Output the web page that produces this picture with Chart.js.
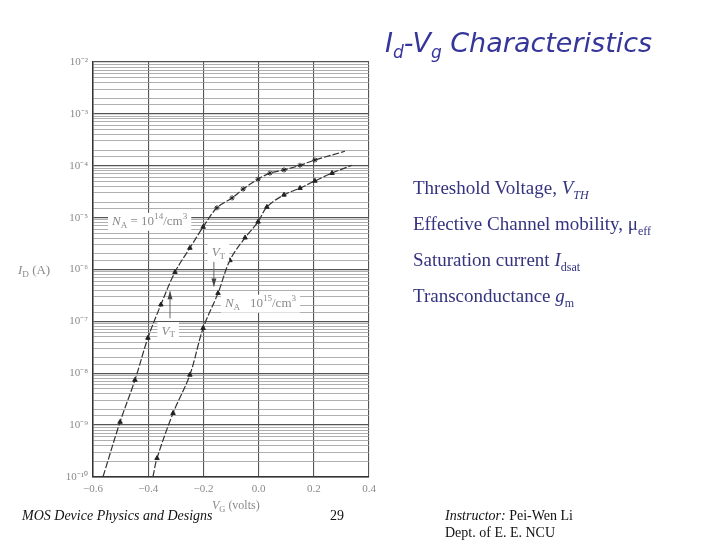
<!doctype html>
<html>
<head>
<title>Id-Vg Characteristics</title>
<script src="https://cdn.jsdelivr.net/npm/chart.js"></script>
<style>
  body { margin: 0; background: #fff; }
  #wrap { position: relative; width: 720px; height: 540px; overflow: hidden; }
  #canvas { position: absolute; left: 0; top: 0; }
  .title { position: absolute; left: 385px; top: 27px; font-family: "DejaVu Sans", sans-serif; font-style: italic; font-size: 27px; color: #35359a; white-space: nowrap; }
  .title sub { font-size: 17px; }
  .bul { position: absolute; left: 413px; font-family: "Liberation Serif", serif; font-size: 19px; color: #33337f; white-space: nowrap; }
  .bul i sub, .bul sub { font-size: 12px; font-style: normal; }
  .foot { position: absolute; font-family: "Liberation Serif", serif; font-size: 14px; color: #111; white-space: nowrap; }
</style>
</head>
<body>
<div id="wrap">
  <canvas id="canvas" width="720" height="540"></canvas>
  <div class="title">I<sub>d</sub>-V<sub>g</sub> Characteristics</div>
  <div class="bul" style="top:177px">Threshold Voltage, <i>V<sub><i>TH</i></sub></i></div>
  <div class="bul" style="top:213px">Effective Channel mobility, &mu;<sub>eff</sub></div>
  <div class="bul" style="top:249px">Saturation current <i>I</i><sub>dsat</sub></div>
  <div class="bul" style="top:285px">Transconductance <i>g</i><sub>m</sub></div>
  <div class="foot" style="left:22px;top:508px;font-style:italic">MOS Device Physics and Designs</div>
  <div class="foot" style="left:330px;top:508px">29</div>
  <div class="foot" style="left:445px;top:508px"><i>Instructor:</i> Pei-Wen Li</div>
  <div class="foot" style="left:445px;top:525px">Dept. of E. E. NCU</div>
</div>
<script>
// NA = 1e14 /cm3 curve
var vgLow = [-0.564, -0.502, -0.448, -0.401, -0.354, -0.303, -0.249, -0.201, -0.151, -0.096, -0.056, -0.002, 0.041, 0.092, 0.150, 0.204, 0.313];
var idLow = [1e-10, 1.15e-9, 7.4e-9, 4.8e-8, 2.1e-7, 8.9e-7, 2.6e-6, 6.6e-6, 1.55e-5, 2.4e-5, 3.55e-5, 5.5e-5, 7.2e-5, 8.3e-5, 1.02e-4, 1.29e-4, 1.9e-4];
// NA = 1e15 /cm3 curve
var vgHigh = [-0.383, -0.368, -0.310, -0.249, -0.201, -0.147, -0.104, -0.049, -0.002, 0.030, 0.092, 0.150, 0.204, 0.266, 0.338];
var idHigh = [1e-10, 2.3e-10, 1.7e-9, 9.3e-9, 7.4e-8, 3.5e-7, 1.5e-6, 4.1e-6, 8.3e-6, 1.6e-5, 2.75e-5, 3.7e-5, 5.1e-5, 7.2e-5, 1.02e-4];

var xTicks = [-0.6, -0.4, -0.2, 0.0, 0.2, 0.4];
var yDecades = [-10, -9, -8, -7, -6, -5, -4, -3, -2];

// text labels on the plot, in data coordinates
var notes = [
  {x: -0.531, y: 8.3e-6, parts: [['N', 'i'], ['A', 'sub'], [' = 10', ''], ['14', 'sup'], ['/cm', ''], ['3', 'sup']]},
  {x: -0.122, y: 2.2e-7, parts: [['N', 'i'], ['A', 'sub'], ['   10', ''], ['15', 'sup'], ['/cm', ''], ['3', 'sup']]},
  {x: -0.170, y: 2.1e-6, parts: [['V', 'i'], ['T', 'sub']]},
  {x: -0.352, y: 6.5e-8, parts: [['V', 'i'], ['T', 'sub']]}
];
var arrows = [
  {x: -0.162, from: 1.4e-6, to: 4.7e-7},
  {x: -0.321, from: 1.15e-7, to: 3.8e-7}
];

function pts(xs, ys) {
  return xs.map(function(v, i) { return {x: v, y: ys[i]}; });
}

var SUP = {'-': '\u207b', '0': '\u2070', '1': '\u00b9', '2': '\u00b2', '3': '\u00b3', '4': '\u2074', '5': '\u2075', '6': '\u2076', '7': '\u2077', '8': '\u2078', '9': '\u2079'};
function supStr(s) { return s.split('').map(function(c) { return SUP[c] || c; }).join(''); }

function isDecade(v) {
  var l = Math.log10(v);
  return Math.abs(l - Math.round(l)) < 1e-6;
}

var soft = '#8a8a8a';

function richText(ctx, x, y, parts, size) {
  var cx = x;
  parts.forEach(function(p) {
    var t = p[0], k = p[1];
    var fs = size, dy = 0, st = '';
    if (k === 'i') st = 'italic ';
    if (k === 'sub') { fs = size * 0.7; dy = size * 0.3; }
    if (k === 'sup') { fs = size * 0.7; dy = -size * 0.4; }
    ctx.font = st + fs + 'px "Liberation Serif", serif';
    ctx.fillText(t, cx, y + dy);
    cx += ctx.measureText(t).width;
  });
  return cx - x;
}

var overlay = {
  id: 'overlay',
  afterDatasetsDraw: function(chart) {
    var ctx = chart.ctx, xs = chart.scales.x, ys = chart.scales.y;
    ctx.save();
    ctx.textBaseline = 'middle';
    ctx.textAlign = 'left';
    notes.forEach(function(n) {
      var px = xs.getPixelForValue(n.x), py = ys.getPixelForValue(n.y);
      ctx.fillStyle = 'rgba(0,0,0,0)';
      var w = richText(ctx, px, py, n.parts, 13);
      ctx.fillStyle = '#fff';
      ctx.fillRect(px - 4, py - 9, w + 8, 18);
      ctx.fillStyle = soft;
      richText(ctx, px, py, n.parts, 13);
    });
    ctx.strokeStyle = '#666';
    ctx.fillStyle = '#444';
    ctx.lineWidth = 1;
    arrows.forEach(function(a) {
      var px = xs.getPixelForValue(a.x), y1 = ys.getPixelForValue(a.from), y2 = ys.getPixelForValue(a.to);
      var dir = y2 > y1 ? 1 : -1;
      ctx.beginPath(); ctx.moveTo(px, y1); ctx.lineTo(px, y2); ctx.stroke();
      ctx.beginPath(); ctx.moveTo(px, y2); ctx.lineTo(px - 2.5, y2 - dir * 8); ctx.lineTo(px + 2.5, y2 - dir * 8); ctx.closePath(); ctx.fill();
    });
    ctx.restore();
  },
  afterDraw: function(chart) {
    var ctx = chart.ctx, a = chart.chartArea;
    ctx.save();
    ctx.fillStyle = soft;
    ctx.textBaseline = 'middle';
    ctx.textAlign = 'left';
    // y axis title
    richText(ctx, 18, a.top + (a.bottom - a.top) * 0.5 + 1, [['I', 'i'], ['D', 'sub'], [' (A)', '']], 13);
    // x axis title
    richText(ctx, 212, 506, [['V', 'i'], ['G', 'sub'], [' (volts)', '']], 12);
    ctx.restore();
  }
};

var lineStyle = {
  showLine: true,
  borderColor: '#333',
  backgroundColor: '#222',
  borderWidth: 1.2,
  borderDash: [7, 2],
  tension: 0.35,
  pointBorderColor: '#222',
  pointBorderWidth: 1
};

function mkSet(label, xs, ys, starAbove) {
  var ds = Object.assign({}, lineStyle, {
    label: label,
    data: pts(xs, ys),
    pointRadius: function(c) { return (c.dataIndex === 0 || c.dataIndex === xs.length - 1) ? 0 : 2.6; },
    pointStyle: function(c) { return (starAbove && c.raw && c.raw.y > 1.2e-5) ? 'star' : 'triangle'; }
  });
  return ds;
}

window.onload = function() {
  var ctx = document.getElementById('canvas').getContext('2d');
  window.myChart = new Chart(ctx, {
    type: 'scatter',
    data: {
      datasets: [
        mkSet('NA = 1e14 /cm3', vgLow, idLow, true),
        mkSet('NA = 1e15 /cm3', vgHigh, idHigh, false)
      ]
    },
    options: {
      responsive: false,
      animation: false,
      events: [],
      layout: { padding: { left: 0, top: 62, right: 351, bottom: 0 } },
      plugins: { legend: { display: false }, tooltip: { enabled: false } },
      scales: {
        x: {
          type: 'linear',
          min: xTicks[0],
          max: xTicks[xTicks.length - 1],
          afterFit: function(s) { s.height = 63; },
          afterBuildTicks: function(s) { s.ticks = xTicks.map(function(v) { return {value: v}; }); },
          ticks: {
            color: soft,
            padding: 6,
            font: { family: '"Liberation Serif", serif', size: 11 },
            callback: function(v) { return (v < 0 ? '\u2212' : '') + Math.abs(v).toFixed(1); }
          },
          grid: { color: '#555', lineWidth: 1.1, drawTicks: false },
          border: { color: '#333', width: 1.5 }
        },
        y: {
          type: 'logarithmic',
          min: Math.pow(10, yDecades[0]),
          max: Math.pow(10, yDecades[yDecades.length - 1]),
          afterFit: function(s) { s.width = 93; },
          ticks: {
            autoSkip: false,
            color: soft,
            padding: 5,
            font: { family: '"Liberation Serif", serif', size: 11 },
            callback: function(v) {
              if (!isDecade(v)) return '';
              return '10' + supStr(String(Math.round(Math.log10(v))));
            }
          },
          grid: {
            drawTicks: false,
            color: function(c) { return (c.tick && isDecade(c.tick.value)) ? '#555' : '#9a9a9a'; },
            lineWidth: function(c) { return (c.tick && isDecade(c.tick.value)) ? 1.3 : 0.8; }
          },
          border: { color: '#333', width: 1.5 }
        }
      }
    },
    plugins: [overlay]
  });
};
</script>
</body>
</html>
